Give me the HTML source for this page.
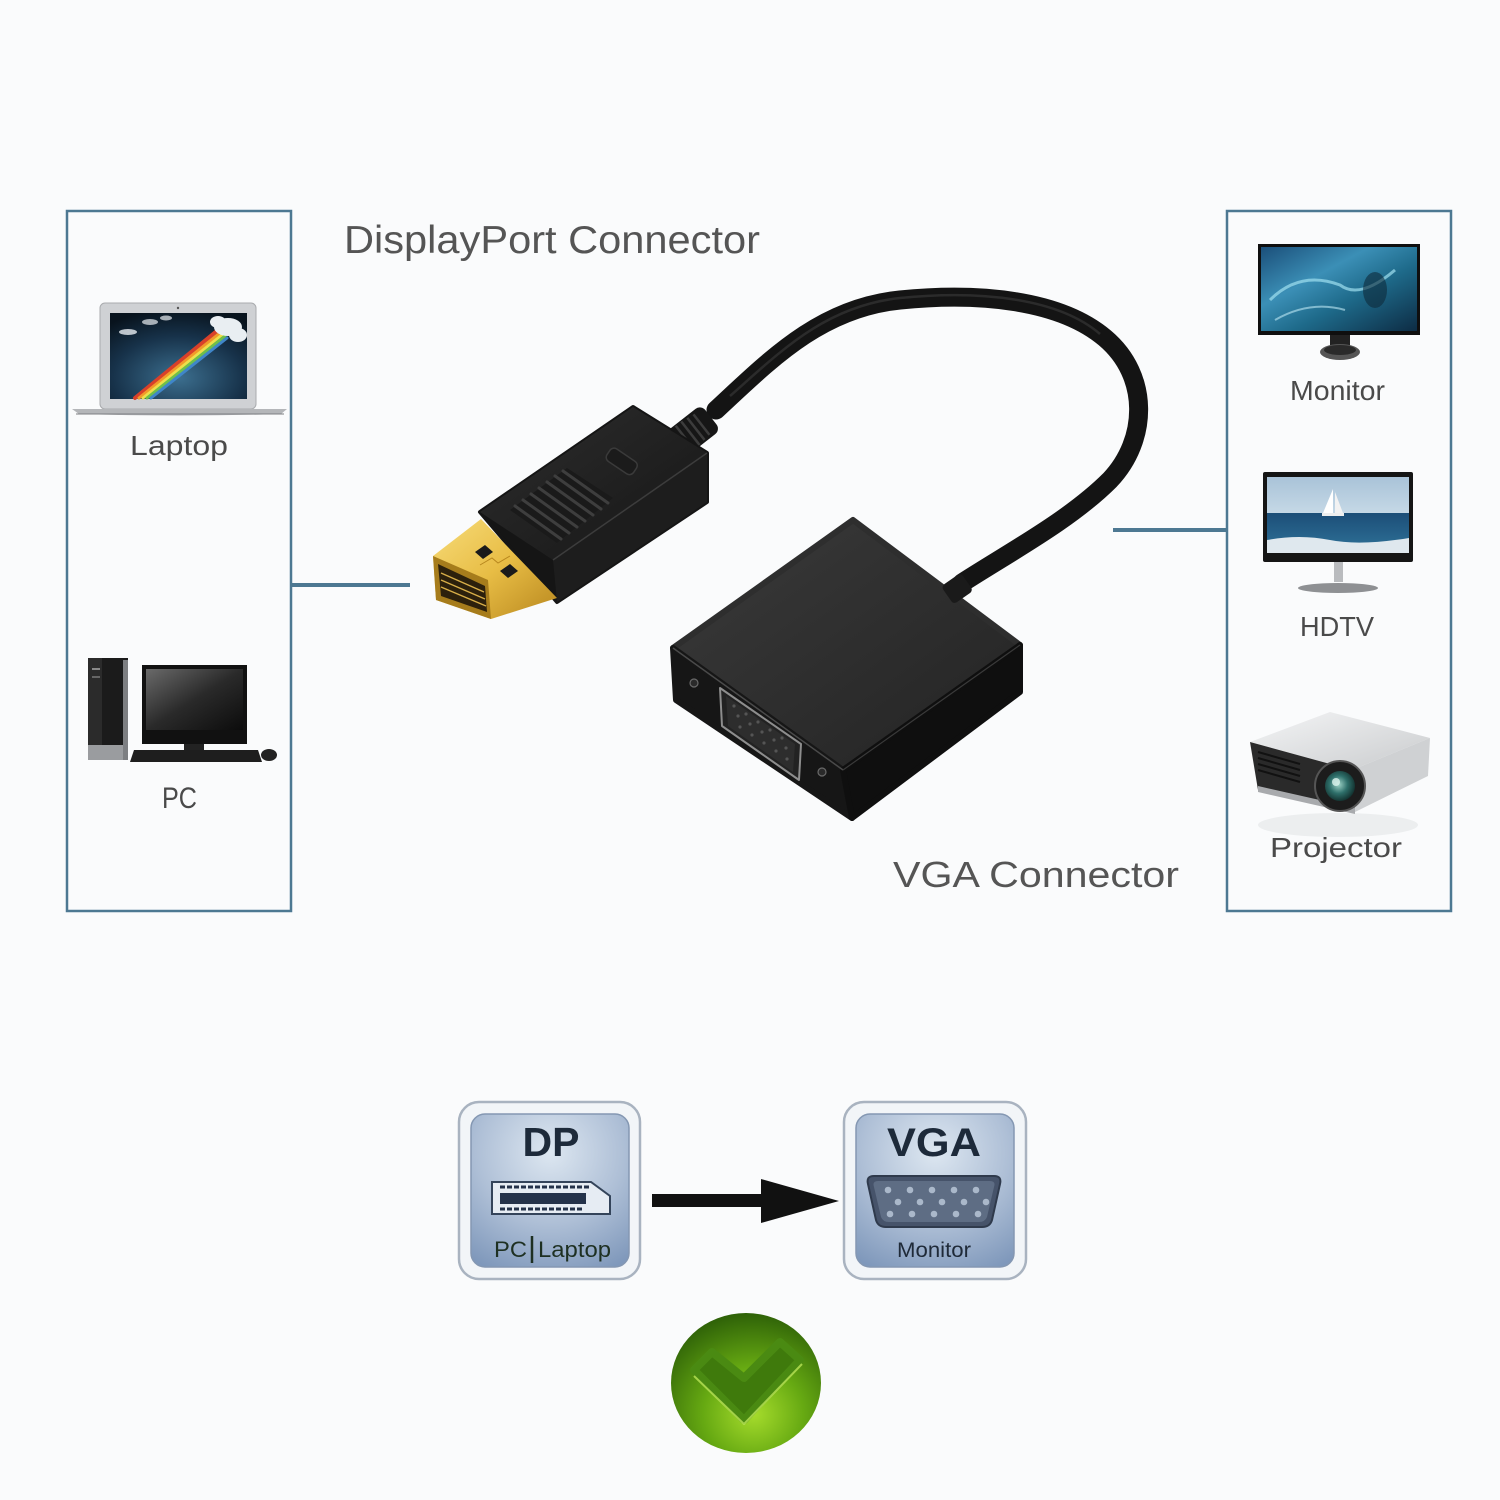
<!DOCTYPE html>
<html>
<head>
<meta charset="utf-8">
<style>
  html,body{margin:0;padding:0;background:#fafbfc;}
  svg{display:block;}
  text{font-family:"Liberation Sans",Arial,sans-serif;}
</style>
</head>
<body>
<svg width="1500" height="1500" viewBox="0 0 1500 1500" xmlns="http://www.w3.org/2000/svg">
  <defs>
    <radialGradient id="lapScr" cx="0.5" cy="0.75" r="0.8">
      <stop offset="0" stop-color="#3c6f8f"/>
      <stop offset="0.6" stop-color="#17324a"/>
      <stop offset="1" stop-color="#08131d"/>
    </radialGradient>
    <linearGradient id="pcScr" x1="0" y1="0" x2="1" y2="1">
      <stop offset="0" stop-color="#6a6a6a"/>
      <stop offset="0.5" stop-color="#2a2a2a"/>
      <stop offset="1" stop-color="#0c0c0c"/>
    </linearGradient>
    <linearGradient id="monScr" x1="0" y1="0" x2="1" y2="1">
      <stop offset="0" stop-color="#1b4f7a"/>
      <stop offset="0.35" stop-color="#3b8fb6"/>
      <stop offset="0.6" stop-color="#1e6a8a"/>
      <stop offset="1" stop-color="#0d2c44"/>
    </linearGradient>
    <linearGradient id="sky" x1="0" y1="0" x2="0" y2="1">
      <stop offset="0" stop-color="#a9c3d8"/>
      <stop offset="1" stop-color="#c5d8e6"/>
    </linearGradient>
    <linearGradient id="sea" x1="0" y1="0" x2="0" y2="1">
      <stop offset="0" stop-color="#1c4e78"/>
      <stop offset="1" stop-color="#2f7399"/>
    </linearGradient>
    <linearGradient id="projTop" x1="0" y1="0" x2="1" y2="1">
      <stop offset="0" stop-color="#f4f5f6"/>
      <stop offset="1" stop-color="#c9cbcd"/>
    </linearGradient>
    <radialGradient id="lens" cx="0.45" cy="0.45" r="0.6">
      <stop offset="0" stop-color="#9fd3c8"/>
      <stop offset="0.5" stop-color="#2e6f6a"/>
      <stop offset="1" stop-color="#0f2a28"/>
    </radialGradient>
    <linearGradient id="gold" x1="0" y1="0" x2="1" y2="1">
      <stop offset="0" stop-color="#f7dc7a"/>
      <stop offset="0.5" stop-color="#e8bd45"/>
      <stop offset="1" stop-color="#b8871e"/>
    </linearGradient>
    <linearGradient id="vgaTop" x1="0" y1="0" x2="1" y2="1">
      <stop offset="0" stop-color="#3a3a3a"/>
      <stop offset="1" stop-color="#232323"/>
    </linearGradient>
    <linearGradient id="plugTop" x1="0" y1="0" x2="1" y2="1">
      <stop offset="0" stop-color="#2e2e2e"/>
      <stop offset="1" stop-color="#151515"/>
    </linearGradient>
    <radialGradient id="tile" cx="0.5" cy="0.25" r="0.85">
      <stop offset="0" stop-color="#dde7f1"/>
      <stop offset="0.55" stop-color="#aebfd6"/>
      <stop offset="1" stop-color="#7f98bb"/>
    </radialGradient>
    <radialGradient id="green" cx="0.55" cy="0.72" r="0.75">
      <stop offset="0" stop-color="#a6dc2c"/>
      <stop offset="0.45" stop-color="#66a912"/>
      <stop offset="1" stop-color="#2a5c07"/>
    </radialGradient>
  </defs>

  <rect width="1500" height="1500" fill="#fafbfc"/>

  <!-- ===== Side boxes ===== -->
  <rect x="67" y="211" width="224" height="700" fill="none" stroke="#4d7892" stroke-width="2.5"/>
  <rect x="1227" y="211" width="224" height="700" fill="none" stroke="#4d7892" stroke-width="2.5"/>
  <line x1="292" y1="585" x2="410" y2="585" stroke="#4d7892" stroke-width="4"/>
  <line x1="1113" y1="530" x2="1227" y2="530" stroke="#4d7892" stroke-width="4"/>

  <!-- ===== Labels ===== -->
  <text x="344" y="253" font-size="39" fill="#555" textLength="416" lengthAdjust="spacingAndGlyphs">DisplayPort Connector</text>
  <text x="893" y="887" font-size="36" fill="#555" textLength="286" lengthAdjust="spacingAndGlyphs">VGA Connector</text>
  <text x="130" y="455" font-size="28" fill="#4a4a4a" textLength="98" lengthAdjust="spacingAndGlyphs">Laptop</text>
  <text x="162" y="808" font-size="30" fill="#4a4a4a" textLength="35" lengthAdjust="spacingAndGlyphs">PC</text>
  <text x="1290" y="400" font-size="28" fill="#4a4a4a" textLength="95" lengthAdjust="spacingAndGlyphs">Monitor</text>
  <text x="1300" y="636" font-size="28" fill="#4a4a4a" textLength="74" lengthAdjust="spacingAndGlyphs">HDTV</text>
  <text x="1270" y="857" font-size="28" fill="#4a4a4a" textLength="132" lengthAdjust="spacingAndGlyphs">Projector</text>

  <!-- ===== Laptop ===== -->
  <rect x="100" y="303" width="156" height="106" rx="5" fill="#cfd1d4" stroke="#a9abae" stroke-width="1"/>
  <rect x="110" y="313" width="137" height="86" fill="url(#lapScr)"/>
  <circle cx="178" cy="308" r="1.2" fill="#555"/>
  <g stroke-linecap="round" fill="none">
    <line x1="135" y1="398" x2="218" y2="330" stroke="#d8402a" stroke-width="4"/>
    <line x1="139" y1="398" x2="221" y2="332" stroke="#f29a2a" stroke-width="3"/>
    <line x1="143" y1="398" x2="223" y2="334" stroke="#eddf4a" stroke-width="3"/>
    <line x1="147" y1="398" x2="225" y2="336" stroke="#6fbf4a" stroke-width="3"/>
    <line x1="151" y1="398" x2="227" y2="338" stroke="#3f86c9" stroke-width="3"/>
  </g>
  <g fill="#e9eef2">
    <ellipse cx="228" cy="327" rx="14" ry="9"/>
    <ellipse cx="238" cy="335" rx="9" ry="7"/>
    <ellipse cx="218" cy="322" rx="8" ry="6"/>
    <ellipse cx="128" cy="332" rx="9" ry="3" opacity="0.8"/>
    <ellipse cx="150" cy="322" rx="8" ry="3" opacity="0.7"/>
    <ellipse cx="166" cy="318" rx="6" ry="2.5" opacity="0.7"/>
  </g>
  <path d="M72 409 L287 409 L281 414 Q180 417 79 414 Z" fill="#b4b6b9"/>
  <line x1="76" y1="414" x2="284" y2="414" stroke="#7d7f82" stroke-width="1"/>

  <!-- ===== PC ===== -->
  <rect x="88" y="658" width="40" height="102" fill="#1b1b1b"/>
  <rect x="88" y="658" width="14" height="102" fill="#2b2b2b"/>
  <rect x="88" y="745" width="40" height="15" fill="#9a9c9f"/>
  <rect x="123" y="660" width="5" height="100" fill="#7d7f82"/>
  <rect x="92" y="668" width="8" height="2" fill="#888"/>
  <rect x="92" y="676" width="8" height="2" fill="#666"/>
  <rect x="142" y="665" width="105" height="79" fill="#111"/>
  <rect x="146" y="669" width="97" height="61" fill="url(#pcScr)"/>
  <rect x="184" y="744" width="20" height="6" fill="#222"/>
  <polygon points="134,750 258,750 262,762 130,762" fill="#1e1e1e"/>
  <ellipse cx="269" cy="755" rx="8" ry="6" fill="#222"/>

  <!-- ===== Monitor (right) ===== -->
  <rect x="1258" y="244" width="162" height="91" fill="#0f0f0f"/>
  <rect x="1261" y="247" width="156" height="84" fill="url(#monScr)"/>
  <path d="M1270 300 Q1300 270 1340 285 Q1360 300 1395 270" stroke="#9fe0f0" stroke-width="3" fill="none" opacity="0.7"/>
  <path d="M1275 320 Q1310 300 1345 310" stroke="#bfeaf5" stroke-width="2" fill="none" opacity="0.6"/>
  <ellipse cx="1375" cy="290" rx="12" ry="18" fill="#0d2a3a" opacity="0.6"/>
  <rect x="1330" y="335" width="20" height="12" fill="#222"/>
  <ellipse cx="1340" cy="352" rx="20" ry="8" fill="#555"/>
  <ellipse cx="1340" cy="350" rx="16" ry="5" fill="#2a2a2a"/>

  <!-- ===== HDTV ===== -->
  <rect x="1263" y="472" width="150" height="90" rx="2" fill="#151515"/>
  <rect x="1267" y="477" width="142" height="36" fill="url(#sky)"/>
  <rect x="1267" y="513" width="142" height="40" fill="url(#sea)"/>
  <path d="M1267 540 Q1300 534 1330 540 T1409 538 L1409 553 L1267 553 Z" fill="#dfe8ee"/>
  <polygon points="1333,489 1333,513 1323,513" fill="#ffffff"/>
  <polygon points="1335,492 1343,513 1335,513" fill="#f2f2f2"/>
  <rect x="1322" y="513" width="22" height="3" fill="#eee"/>
  <rect x="1334" y="562" width="9" height="20" fill="#b9bbbe"/>
  <ellipse cx="1338" cy="588" rx="40" ry="5" fill="#8e9093"/>

  <!-- ===== Projector ===== -->
  <ellipse cx="1338" cy="825" rx="80" ry="12" fill="#e6e8ea" opacity="0.7"/>
  <polygon points="1250,742 1330,712 1430,738 1352,770" fill="url(#projTop)"/>
  <polygon points="1250,742 1352,770 1355,812 1258,790" fill="#2a2a2a"/>
  <polygon points="1352,770 1430,738 1428,776 1355,812" fill="#cfd1d3"/>
  <polygon points="1258,786 1355,808 1355,814 1258,792" fill="#a8aaad"/>
  <g stroke="#111" stroke-width="2">
    <line x1="1258" y1="752" x2="1300" y2="764"/>
    <line x1="1258" y1="758" x2="1300" y2="770"/>
    <line x1="1258" y1="764" x2="1300" y2="776"/>
    <line x1="1258" y1="770" x2="1300" y2="782"/>
  </g>
  <circle cx="1340" cy="786" r="25" fill="#1c1c1c" stroke="#555" stroke-width="2"/>
  <circle cx="1340" cy="786" r="15" fill="url(#lens)"/>
  <circle cx="1336" cy="782" r="4" fill="#dff5ef" opacity="0.8"/>

  <!-- ===== Adapter: cable ===== -->
  <path d="M716 410 C770 360 820 308 900 300 C980 292 1060 300 1105 338 C1150 376 1148 440 1110 480 C1070 520 1010 552 962 583"
        fill="none" stroke="#141414" stroke-width="19" stroke-linecap="round"/>
  <path d="M730 396 C780 352 825 306 900 298 C980 290 1058 298 1100 334" fill="none" stroke="#3a3a3a" stroke-width="2.5" opacity="0.6"/>

  <!-- strain relief -->
  <g transform="translate(692,432) rotate(-38)">
    <rect x="-30" y="-16" width="54" height="32" rx="7" fill="#161616"/>
    <g stroke="#3c3c3c" stroke-width="2.5">
      <line x1="-16" y1="-15" x2="-16" y2="15"/>
      <line x1="-9" y1="-15" x2="-9" y2="15"/>
      <line x1="-2" y1="-15" x2="-2" y2="15"/>
      <line x1="5" y1="-14" x2="5" y2="14"/>
      <line x1="12" y1="-13" x2="12" y2="13"/>
    </g>
  </g>

  <!-- DP plug body -->
  <polygon points="480,512 633,407 707,453 707,502 557,602" fill="#151515" stroke="#151515" stroke-width="4" stroke-linejoin="round"/>
  <polygon points="480,512 633,407 707,453 553,560" fill="url(#plugTop)"/>
  <polygon points="553,560 707,453 707,502 557,602" fill="#1d1d1d"/>
  <line x1="553" y1="560" x2="707" y2="453" stroke="#3c3c3c" stroke-width="1.5"/>
  <!-- grip -->
  <polygon points="510,510 567,468 613,498 557,543" fill="#1a1a1a"/>
  <g stroke="#3e3e3e" stroke-width="3" stroke-linecap="round">
    <line x1="515" y1="506" x2="561" y2="539"/>
    <line x1="523" y1="500" x2="569" y2="533"/>
    <line x1="531" y1="494" x2="577" y2="527"/>
    <line x1="539" y1="488" x2="585" y2="521"/>
    <line x1="547" y1="482" x2="593" y2="515"/>
    <line x1="555" y1="476" x2="601" y2="509"/>
    <line x1="563" y1="471" x2="608" y2="503"/>
  </g>
  <!-- small rounded rect -->
  <rect x="606" y="454" width="32" height="15" rx="5" transform="rotate(34 622 461)" fill="#1b1b1b" stroke="#3a3a3a" stroke-width="1.5"/>

  <!-- gold tip -->
  <polygon points="433,556 481,519 557,598 491,619 436,600" fill="url(#gold)"/>
  <polygon points="433,556 436,600 491,619 488,580" fill="#a67c1c"/>
  <polygon points="438,564 441,596 487,612 485,586" fill="#2c200c"/>
  <g stroke="#d8ae48" stroke-width="1.4">
    <line x1="441" y1="573" x2="484" y2="592"/>
    <line x1="441" y1="580" x2="485" y2="599"/>
    <line x1="441" y1="587" x2="486" y2="606"/>
  </g>
  <polygon points="475,552 485,545 493,552 483,559" fill="#1a1a1a"/>
  <polygon points="500,571 510,564 518,571 508,578" fill="#1a1a1a"/>
  <path d="M480 565 L492 558 L498 563 L510 556" stroke="#b8871e" stroke-width="1" fill="none"/>

  <!-- VGA box -->
  <polygon points="673,648 853,520 1020,645 843,770" fill="url(#vgaTop)" stroke="#2e2e2e" stroke-width="6" stroke-linejoin="round"/>
  <polygon points="673,648 843,770 852,818 676,700" fill="#161616" stroke="#161616" stroke-width="6" stroke-linejoin="round"/>
  <polygon points="843,770 1020,645 1020,692 852,818" fill="#0f0f0f" stroke="#0f0f0f" stroke-width="6" stroke-linejoin="round"/>
  <line x1="673" y1="648" x2="843" y2="770" stroke="#4a4a4a" stroke-width="1.5"/>
  <line x1="843" y1="770" x2="1020" y2="645" stroke="#3a3a3a" stroke-width="1.2"/>
  <!-- VGA port -->
  <polygon points="720,688 801,744 799,780 722,726" fill="#222" stroke="#8d8d8d" stroke-width="2" stroke-linejoin="round"/>
  <polygon points="726,696 795,744 793,772 728,726" fill="#2d2d2d"/>
  <g fill="#555">
    <circle cx="734" cy="706" r="1.6"/><circle cx="746" cy="714" r="1.6"/><circle cx="758" cy="722" r="1.6"/><circle cx="770" cy="730" r="1.6"/><circle cx="782" cy="738" r="1.6"/>
    <circle cx="738" cy="716" r="1.6"/><circle cx="750" cy="724" r="1.6"/><circle cx="762" cy="732" r="1.6"/><circle cx="774" cy="740" r="1.6"/><circle cx="786" cy="748" r="1.6"/>
    <circle cx="740" cy="727" r="1.6"/><circle cx="752" cy="735" r="1.6"/><circle cx="764" cy="743" r="1.6"/><circle cx="776" cy="751" r="1.6"/><circle cx="787" cy="759" r="1.6"/>
  </g>
  <circle cx="694" cy="683" r="4" fill="#2a2a2a" stroke="#6a6a6a" stroke-width="1.2"/>
  <circle cx="822" cy="772" r="4" fill="#2a2a2a" stroke="#6a6a6a" stroke-width="1.2"/>
  <!-- collar -->
  <g transform="translate(958,588) rotate(-35)">
    <rect x="-13" y="-11" width="24" height="22" rx="4" fill="#1a1a1a"/>
  </g>

  <!-- ===== Bottom: DP tile ===== -->
  <rect x="459" y="1102" width="181" height="177" rx="20" fill="#f2f5f8" stroke="#a9b3c0" stroke-width="2.5"/>
  <rect x="471" y="1114" width="158" height="153" rx="14" fill="url(#tile)" stroke="#8497b2" stroke-width="1.5"/>
  <text x="551" y="1156" font-size="41" font-weight="bold" fill="#1d2a3a" text-anchor="middle">DP</text>
  <polygon points="492,1182 591,1182 610,1196 610,1214 492,1214" fill="#e6ecf3" stroke="#34445a" stroke-width="2"/>
  <rect x="500" y="1193" width="86" height="11" fill="#24324a"/>
  <line x1="500" y1="1187" x2="590" y2="1187" stroke="#24324a" stroke-width="3" stroke-dasharray="5 2"/>
  <line x1="500" y1="1209" x2="582" y2="1209" stroke="#24324a" stroke-width="3" stroke-dasharray="5 2"/>
  <text x="494" y="1257" font-size="22" fill="#1e3022" textLength="33" lengthAdjust="spacingAndGlyphs">PC</text>
  <line x1="532" y1="1236" x2="532" y2="1263" stroke="#1e3022" stroke-width="2.5"/>
  <text x="538" y="1257" font-size="22" fill="#1e3022" textLength="73" lengthAdjust="spacingAndGlyphs">Laptop</text>

  <!-- arrow -->
  <rect x="652" y="1194" width="112" height="13" fill="#111"/>
  <polygon points="761,1179 839,1201 761,1223" fill="#111"/>

  <!-- ===== Bottom: VGA tile ===== -->
  <rect x="844" y="1102" width="182" height="177" rx="20" fill="#f2f5f8" stroke="#a9b3c0" stroke-width="2.5"/>
  <rect x="856" y="1114" width="158" height="153" rx="14" fill="url(#tile)" stroke="#8497b2" stroke-width="1.5"/>
  <text x="934" y="1156" font-size="40" font-weight="bold" fill="#1d2a3a" text-anchor="middle" textLength="94" lengthAdjust="spacingAndGlyphs">VGA</text>
  <path d="M874 1176 L994 1176 Q1002 1176 1000 1184 L992 1220 Q990 1227 982 1227 L886 1227 Q878 1227 876 1220 L868 1184 Q866 1176 874 1176 Z" fill="#46536a" stroke="#2f3a4c" stroke-width="2"/>
  <path d="M878 1181 L990 1181 Q996 1181 994 1187 L987 1217 Q985 1222 979 1222 L889 1222 Q883 1222 881 1217 L874 1187 Q872 1181 878 1181 Z" fill="#5e6d84"/>
  <g fill="#aab8ca">
    <circle cx="888" cy="1190" r="3.3"/><circle cx="910" cy="1190" r="3.3"/><circle cx="932" cy="1190" r="3.3"/><circle cx="954" cy="1190" r="3.3"/><circle cx="976" cy="1190" r="3.3"/>
    <circle cx="898" cy="1202" r="3.3"/><circle cx="920" cy="1202" r="3.3"/><circle cx="942" cy="1202" r="3.3"/><circle cx="964" cy="1202" r="3.3"/><circle cx="986" cy="1202" r="3.3"/>
    <circle cx="890" cy="1214" r="3.3"/><circle cx="912" cy="1214" r="3.3"/><circle cx="934" cy="1214" r="3.3"/><circle cx="956" cy="1214" r="3.3"/><circle cx="978" cy="1214" r="3.3"/>
  </g>
  <text x="934" y="1257" font-size="21" fill="#1f2a38" text-anchor="middle" textLength="74" lengthAdjust="spacingAndGlyphs">Monitor</text>

  <!-- ===== Check circle ===== -->
  <ellipse cx="746" cy="1383" rx="75" ry="70" fill="url(#green)"/>
  <path d="M694 1370 L712 1352 L744 1378 L780 1342 L800 1360 L744 1420 Z" fill="#3f7a0c" stroke="#4a8a12" stroke-width="8" stroke-linejoin="round"/>
  <path d="M694 1376 L744 1424 L802 1364" fill="none" stroke="#b9e356" stroke-width="2" stroke-linejoin="round" opacity="0.8"/>
</svg>
</body>
</html>
